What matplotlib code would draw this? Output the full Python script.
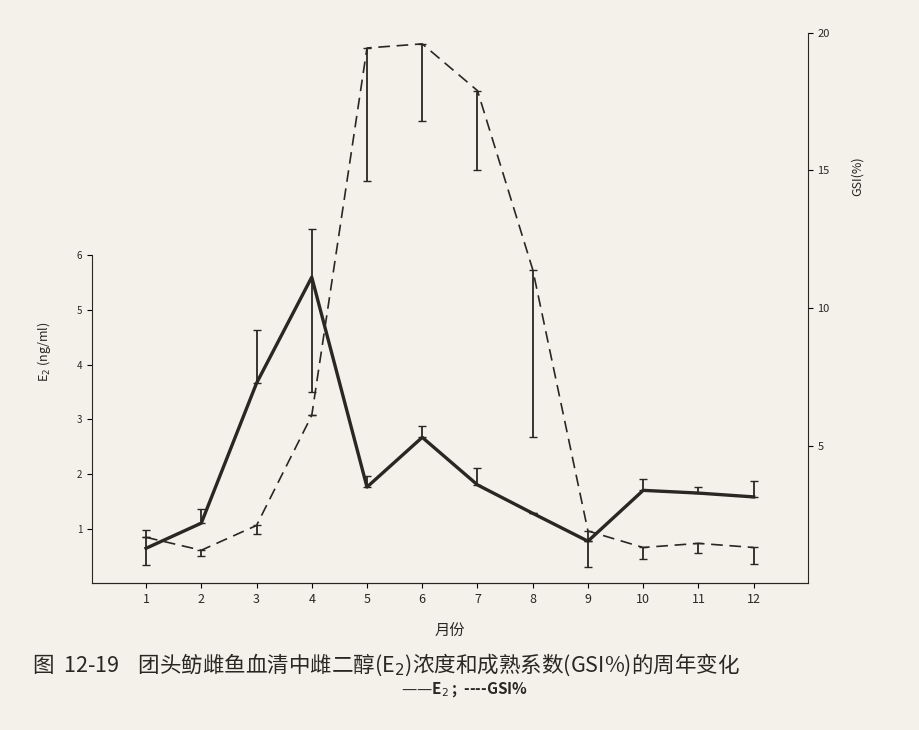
import matplotlib
matplotlib.use("Agg")
import matplotlib.pyplot as plt

plt.rcParams['font.family'] = ['Noto Sans CJK SC', 'DejaVu Sans']

months = [1, 2, 3, 4, 5, 6, 7, 8, 9, 10, 11, 12]
e2 = [0.64, 1.1, 3.66, 5.6, 1.76, 2.67, 1.8, 1.28, 0.77, 1.7, 1.65, 1.58]
e2_up = [0.33, 0.25, 0.97, 0.88, 0.2, 0.2, 0.3, 0.0, 0.0, 0.2, 0.12, 0.3]
e2_dn = [0.3, 0.0, 0.0, 2.1, 0.0, 0.0, 0.0, 0.0, 0.0, 0.0, 0.0, 0.0]
gsi = [1.67, 1.2, 2.1, 6.1, 19.45, 19.6, 17.9, 11.4, 1.9, 1.3, 1.45, 1.3]
gsi_up = [0, 0, 0, 0, 0, 0, 0, 0, 0, 0, 0, 0]
gsi_dn = [0, 0.2, 0.3, 0, 4.85, 2.8, 2.9, 6.1, 1.3, 0.4, 0.35, 0.6]

ink = '#2a2622'
fig = plt.figure(figsize=(9.19, 7.3), dpi=100, facecolor='#f4f1ea')
ax = fig.add_axes([0.100, 0.201, 0.779, 0.754])
ax.set_facecolor('none')
ax2 = ax.twinx()

ax.plot(months, e2, color=ink, lw=2.4)
ax.errorbar(months, e2, yerr=[e2_dn, e2_up], fmt='none', ecolor=ink, elinewidth=1.3, capsize=3)
ax2.plot(months, gsi, color=ink, lw=1.2, dashes=(7, 4))
ax2.errorbar(months, gsi, yerr=[gsi_dn, gsi_up], fmt='none', ecolor=ink, elinewidth=1.3, capsize=3)

ax.set_xlim(0.02, 12.98)
ax.set_ylim(0, 10.07)
ax2.set_ylim(0, 20)
for a in (ax, ax2):
    a.spines['top'].set_visible(False)
    for s in a.spines.values():
        s.set_color(ink)
ax2.spines['left'].set_visible(False)
ax.spines['right'].set_visible(False)
ax.spines['left'].set_bounds(0, 6)
ax.set_xticks(months)
ax.set_xticklabels([str(m) for m in months], fontsize=9, color=ink)
ax.set_yticks([1, 2, 3, 4, 5, 6])
ax.set_yticklabels(['1', '2', '3', '4', '5', '6'], fontsize=7, color=ink)
ax2.set_yticks([5, 10, 15, 20])
ax2.set_yticklabels(['5', '10', '15', '20'], fontsize=8, color=ink)
ax.set_ylabel('E$_2$ (ng/ml)', fontsize=9, color=ink, labelpad=4)
ax.yaxis.set_label_coords(-0.055, 0.42)
ax2.set_ylabel('GSI(%)', fontsize=9, color=ink, labelpad=8)
ax2.yaxis.set_label_coords(1.06, 0.74)
ax.set_xlabel('月份', fontsize=11, color=ink, labelpad=12)

fig.text(0.035, 0.09, '图  12-19    团头鲂雌鱼血清中雌二醇(E$_2$)浓度和成熟系数(GSI%)的周年变化',
         fontsize=15.5, color=ink, ha='left', va='center')
fig.text(0.505, 0.055, '——E$_2$ ;  ----GSI%', fontsize=11, color=ink, ha='center', va='center', fontweight='bold')

fig.savefig('out.png', dpi=100, facecolor=fig.get_facecolor())
